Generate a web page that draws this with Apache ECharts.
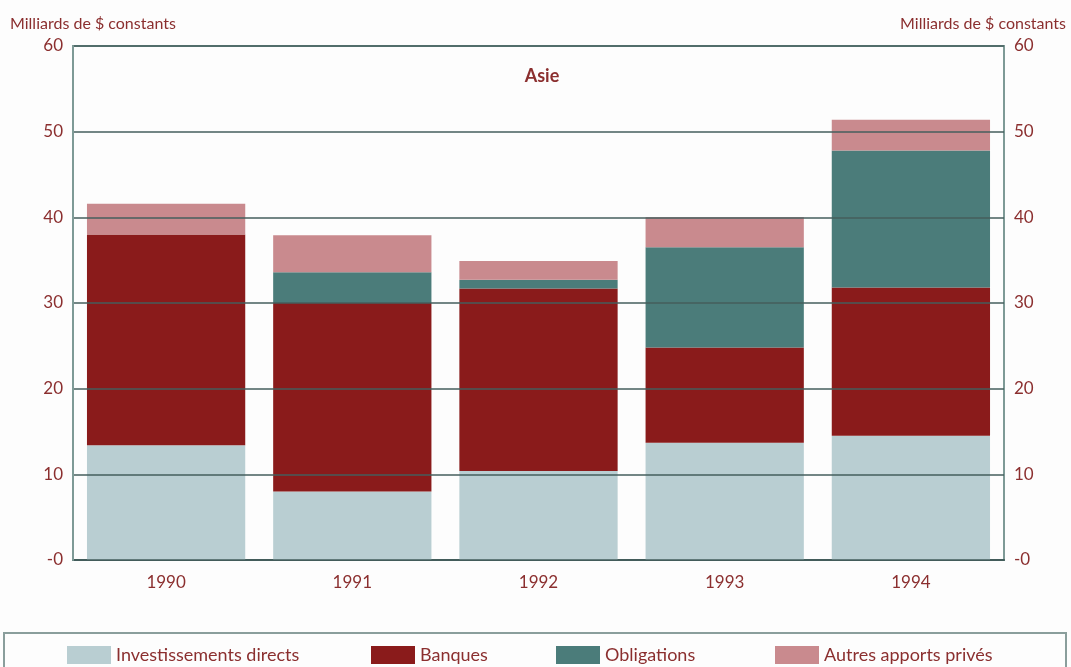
<!DOCTYPE html>
<html><head><meta charset="utf-8">
<script src="https://cdn.jsdelivr.net/npm/echarts@6/dist/echarts.min.js"></script>
<style>html,body{margin:0;padding:0;background:#fdfdfd}#c{width:1071px;height:667px}</style>
</head><body><div id="c"></div>
<script>
const categories = ['1990','1991','1992','1993','1994'];
const investissements = [13.4, 8.0, 10.4, 13.7, 14.5];
const banques = [24.6, 22.0, 21.3, 11.1, 17.3];
const obligations = [0, 3.6, 1.0, 11.7, 16.0];
const autres = [3.6, 4.3, 2.2, 3.5, 3.6];
const seriesNames = ['Investissements directs','Banques','Obligations','Autres apports privés'];
const yTicks = [0,10,20,30,40,50,60];

const txt = '#8b2f2f';
const font = 'Lato, "Open Sans", sans-serif';
const colors = ['#b9ced2','#8a1b1b','#4b7c7a','#c98a8e'];
const chart = echarts.init(document.getElementById('c'));
const yAxisBase = {
  type:'value', min:yTicks[0], max:yTicks[yTicks.length-1], interval:10,
  axisLine:{show:true, lineStyle:{color:'#7e9a96', width:2}},
  axisTick:{show:false},
  axisLabel:{color:txt, fontSize:17, fontFamily:font, formatter:v=> v===0?'-0':String(v)},
  nameTextStyle:{color:txt, fontSize:16, fontFamily:font},
  name:'Milliards de $ constants', nameLocation:'end'
};
const data = [investissements, banques, obligations, autres];
const legendLefts = [62, 366, 551, 770];
chart.setOption({
  backgroundColor:'#fdfdfd',
  animation:false,
  title:{text:'Asie', left:537, textAlign:'center', top:62, textStyle:{color:txt, fontSize:18, fontWeight:'bold', fontFamily:font}},
  grid:{left:73, right:67, top:46, bottom:107, show:true, borderColor:'#7e9a96', borderWidth:2},
  legend: seriesNames.map((n,i)=>({data:[n], left:legendLefts[i], top:641, itemWidth:44, itemHeight:18, itemGap:10,
    textStyle:{color:txt, fontSize:18, fontFamily:font}, icon:'rect'})),
  graphic:[{type:'rect', shape:{x:4, y:633, width:1062, height:40}, style:{fill:'none', stroke:'#8a9e9c', lineWidth:2}, silent:true}],
  xAxis:{type:'category', data:categories,
    axisLine:{lineStyle:{color:'#3f5856', width:2}}, axisTick:{show:false},
    axisLabel:{color:txt, fontSize:17, fontFamily:font, margin:14}},
  yAxis:[
    Object.assign({}, yAxisBase, {position:'left', z:10,
      splitLine:{show:true, lineStyle:{color:'#455e5c', width:1.5}},
      axisLabel:Object.assign({}, yAxisBase.axisLabel, {margin:10}),
      nameGap:14, nameTextStyle:Object.assign({}, yAxisBase.nameTextStyle, {align:'left', padding:[0,0,0,-63]})}),
    Object.assign({}, yAxisBase, {position:'right', splitLine:{show:false},
      axisLabel:Object.assign({}, yAxisBase.axisLabel, {margin:10}),
      nameGap:14, nameTextStyle:Object.assign({}, yAxisBase.nameTextStyle, {align:'right', padding:[0,-62,0,0]})})
  ],
  series: seriesNames.map((n,i)=>({name:n, type:'bar', stack:'s', data:data[i], barWidth:'85%',
    itemStyle:{color:colors[i]}}))
});
</script></body></html>
